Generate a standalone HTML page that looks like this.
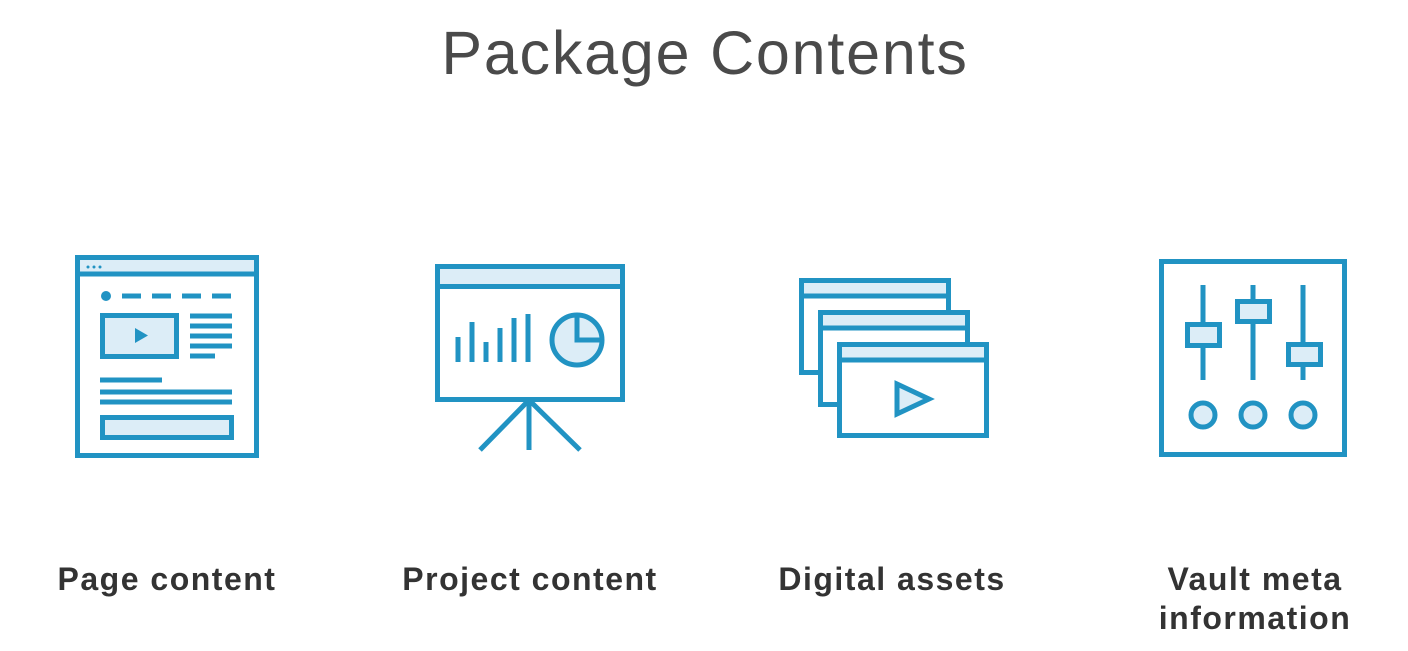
<!DOCTYPE html>
<html><head><meta charset="utf-8"><style>
body{margin:0;width:1408px;height:651px;background:#fff;overflow:hidden;font-family:"Liberation Sans",sans-serif}
svg{position:absolute;left:0;top:0}
</style></head><body>
<svg width="1408" height="651" viewBox="0 0 1408 651">
<text x="705" y="74" text-anchor="middle" font-size="61" fill="#4a4a4a" font-family="Liberation Sans, sans-serif" letter-spacing="1.8">Package Contents</text>
<g fill="none" stroke="#2193c3" stroke-width="5">
<!-- icon 1 -->
<rect x="77.5" y="257.5" width="179" height="198"/>
<rect x="80" y="260" width="174" height="14" fill="#dcedf7" stroke="none"/>
<line x1="77" y1="274" x2="257" y2="274"/>
<circle cx="106" cy="296" r="5" fill="#2193c3" stroke="none"/>
<line x1="122" y1="296" x2="232" y2="296" stroke-dasharray="19,11"/>
<rect x="102.5" y="315.5" width="74" height="41" fill="#dcedf7"/>
<polygon points="135,328 135,343 148,335.5" fill="#2193c3" stroke="none"/>
<line x1="190" y1="316" x2="232" y2="316"/><line x1="190" y1="326" x2="232" y2="326"/>
<line x1="190" y1="336" x2="232" y2="336"/><line x1="190" y1="346" x2="232" y2="346"/>
<line x1="190" y1="356" x2="215" y2="356"/>
<line x1="100" y1="380" x2="162" y2="380"/>
<line x1="100" y1="392" x2="232" y2="392"/><line x1="100" y1="402" x2="232" y2="402"/>
<rect x="102.5" y="417.5" width="129" height="20" fill="#dcedf7"/>
<circle cx="88" cy="267" r="1.5" fill="#2193c3" stroke="none"/><circle cx="94" cy="267" r="1.5" fill="#2193c3" stroke="none"/><circle cx="100" cy="267" r="1.5" fill="#2193c3" stroke="none"/>
<!-- icon 2 -->
<rect x="437.5" y="266.5" width="185" height="20" fill="#dcedf7"/>
<rect x="437.5" y="266.5" width="185" height="133"/>
<line x1="458" y1="362" x2="458" y2="337"/><line x1="472" y1="362" x2="472" y2="322"/>
<line x1="486" y1="362" x2="486" y2="342"/><line x1="500" y1="362" x2="500" y2="328"/>
<line x1="514" y1="362" x2="514" y2="318"/><line x1="528" y1="362" x2="528" y2="314"/>
<ellipse cx="577" cy="340" rx="25" ry="25" fill="#dcedf7"/>
<polyline points="577,315 577,340 602,340"/>
<line x1="529" y1="400" x2="529" y2="450"/>
<line x1="529" y1="400" x2="480" y2="450"/><line x1="529" y1="400" x2="580" y2="450"/>
<!-- icon 3 -->
<rect x="801.5" y="280.5" width="147" height="92" fill="#fff"/>
<rect x="804" y="283" width="142" height="12" fill="#dcedf7" stroke="none"/><line x1="801" y1="296" x2="949" y2="296"/>
<rect x="820.5" y="312.5" width="147" height="92" fill="#fff"/>
<rect x="823" y="315" width="142" height="12" fill="#dcedf7" stroke="none"/><line x1="820" y1="328" x2="968" y2="328"/>
<rect x="839.5" y="344.5" width="147" height="91" fill="#fff"/>
<rect x="842" y="347" width="142" height="12" fill="#dcedf7" stroke="none"/><line x1="839" y1="360" x2="987" y2="360"/>
<polygon points="897,384 897,414 929,399" fill="#dcedf7"/>
<!-- icon 4 -->
<rect x="1161.5" y="261.5" width="183" height="193"/>
<line x1="1203" y1="285" x2="1203" y2="380"/><line x1="1253" y1="285" x2="1253" y2="380"/><line x1="1303" y1="285" x2="1303" y2="380"/>
<rect x="1187.5" y="324.5" width="32" height="21" fill="#dcedf7"/>
<rect x="1237.5" y="301.5" width="32" height="20" fill="#dcedf7"/>
<rect x="1288.5" y="344.5" width="32" height="20" fill="#dcedf7"/>
<circle cx="1203" cy="415" r="12" fill="#dcedf7"/><circle cx="1253" cy="415" r="12" fill="#dcedf7"/><circle cx="1303" cy="415" r="12" fill="#dcedf7"/>
</g>
<g font-size="32" font-weight="bold" fill="#333" text-anchor="middle" font-family="Liberation Sans, sans-serif" letter-spacing="1.5">
<text x="167" y="590">Page content</text>
<text x="530" y="590">Project content</text>
<text x="892" y="590">Digital assets</text>
<text x="1255" y="590">Vault meta</text>
<text x="1255" y="629">information</text>
</g>
</svg>
</body></html>
